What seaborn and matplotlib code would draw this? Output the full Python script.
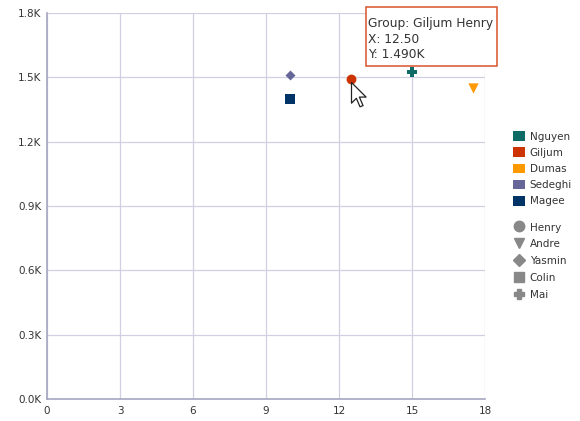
import matplotlib
matplotlib.use("Agg")
import matplotlib.pyplot as plt
import seaborn as sns
import pandas as pd
from matplotlib.patches import Patch, Rectangle
from matplotlib.lines import Line2D
from matplotlib.path import Path
from matplotlib.transforms import IdentityTransform
from matplotlib.ticker import FuncFormatter, MultipleLocator

# Data: one point per person, grouped by family name
groups = ["Nguyen", "Giljum", "Dumas", "Sedeghi", "Magee"]
names = ["Mai", "Henry", "Andre", "Yasmin", "Colin"]
x_vals = [15.0, 12.5, 17.5, 10.0, 10.0]
y_vals = [1525, 1490, 1450, 1510, 1400]

group_colors = ["#0e6b66", "#cc3300", "#ff9900", "#666699", "#003366"]
name_order = ["Henry", "Andre", "Yasmin", "Colin", "Mai"]
name_markers = ["o", "v", "D", "s", "P"]
name_sizes = [50, 55, 26, 50, 62]

x_ticks = [0, 3, 6, 9, 12, 15, 18]

df = pd.DataFrame({"group": groups, "name": names, "x": x_vals, "y": y_vals})

sns.set_theme(style="white")
plt.rcParams["font.family"] = ["DejaVu Sans"]

fig = plt.figure(figsize=(5.8, 4.21), dpi=100)
ax = fig.add_axes([47 / 580, 1 - 399 / 421, 438 / 580, 386 / 421])

palette = dict(zip(groups, group_colors))
markers = dict(zip(name_order, name_markers))
sizes = dict(zip(name_order, name_sizes))

for nm in name_order:
    sub = df[df["name"] == nm]
    sns.scatterplot(data=sub, x="x", y="y", hue="group", palette=palette,
                    marker=markers[nm], s=sizes[nm], linewidth=0,
                    legend=False, ax=ax, zorder=3, clip_on=False)

ax.set_xlim(0, 18)
ax.set_ylim(0, 1800)
ax.set_xticks(x_ticks)
ax.yaxis.set_major_locator(MultipleLocator(300))
ax.yaxis.set_major_formatter(FuncFormatter(lambda v, p: f"{v / 1000:.1f}K"))
ax.set_xlabel("")
ax.set_ylabel("")

grid_color = "#d0d0e2"
ax.grid(True, color=grid_color, linewidth=0.9)
ax.set_axisbelow(True)
for side in ["top", "right"]:
    ax.spines[side].set_visible(False)
for side in ["left", "bottom"]:
    ax.spines[side].set_color("#a6a6c0")
    ax.spines[side].set_linewidth(1.2)
ax.tick_params(axis="both", length=0, labelsize=7.5, labelcolor="#333333")
ax.tick_params(axis="x", pad=5)
ax.tick_params(axis="y", pad=4)

# Hover tooltip on the Giljum Henry point
i = groups.index("Giljum")
tip = f"Group: {groups[i]} {names[i]}\nX: {x_vals[i]:.2f}\nY: {y_vals[i] / 1000:.3f}K"
tip_text = ax.annotate(tip, xy=(x_vals[i], y_vals[i]), xytext=(17, 62),
                       textcoords="offset pixels", ha="left", va="top",
                       fontsize=8.8, color="#333333", linespacing=1.22,
                       annotation_clip=False, zorder=7)

fig.canvas.draw()
ext = tip_text.get_window_extent(fig.canvas.get_renderer())
pad_l, pad_r, pad_t, pad_b = 2, 4, 10, 5
tip_box = Rectangle((ext.x0 - pad_l, ext.y0 - pad_b),
                    ext.width + pad_l + pad_r,
                    ext.height + pad_t + pad_b,
                    transform=IdentityTransform(), facecolor="white",
                    edgecolor="#d9542c", linewidth=1.1, zorder=6,
                    clip_on=False)
ax.add_artist(tip_box)

# Mouse pointer resting on the hovered point
cursor = Path([(0, 0), (0, -17), (4, -13), (7, -20), (9.5, -19),
               (6.5, -12), (12, -12), (0, 0)],
              [Path.MOVETO] + [Path.LINETO] * 6 + [Path.CLOSEPOLY])
ax.plot([x_vals[i]], [y_vals[i] - 12], marker=cursor, markersize=35,
        markerfacecolor="white", markeredgecolor="#222222",
        markeredgewidth=0.9, linestyle="none", zorder=8, clip_on=False)

# Legends: colour by group, shape by name
group_handles = [Patch(facecolor=c, edgecolor="none", label=g)
                 for g, c in zip(groups, group_colors)]
name_handles = [Line2D([], [], marker=m, linestyle="none", color="#888888",
                       markersize=7.5 if m != "D" else 6, label=n)
                for n, m in zip(name_order, name_markers)]

leg_kw = dict(frameon=False, loc="upper left", fontsize=7.5,
              handlelength=1.15, handleheight=1.05, handletextpad=0.45,
              borderaxespad=0, labelcolor="#333333")
leg1 = fig.legend(handles=group_handles, labelspacing=0.56,
                  bbox_to_anchor=(509 / 580, 1 - 127 / 421), **leg_kw)
leg2 = fig.legend(handles=name_handles, labelspacing=0.62,
                  bbox_to_anchor=(509 / 580, 1 - 218 / 421), **leg_kw)

fig.savefig("out.png", dpi=100)
